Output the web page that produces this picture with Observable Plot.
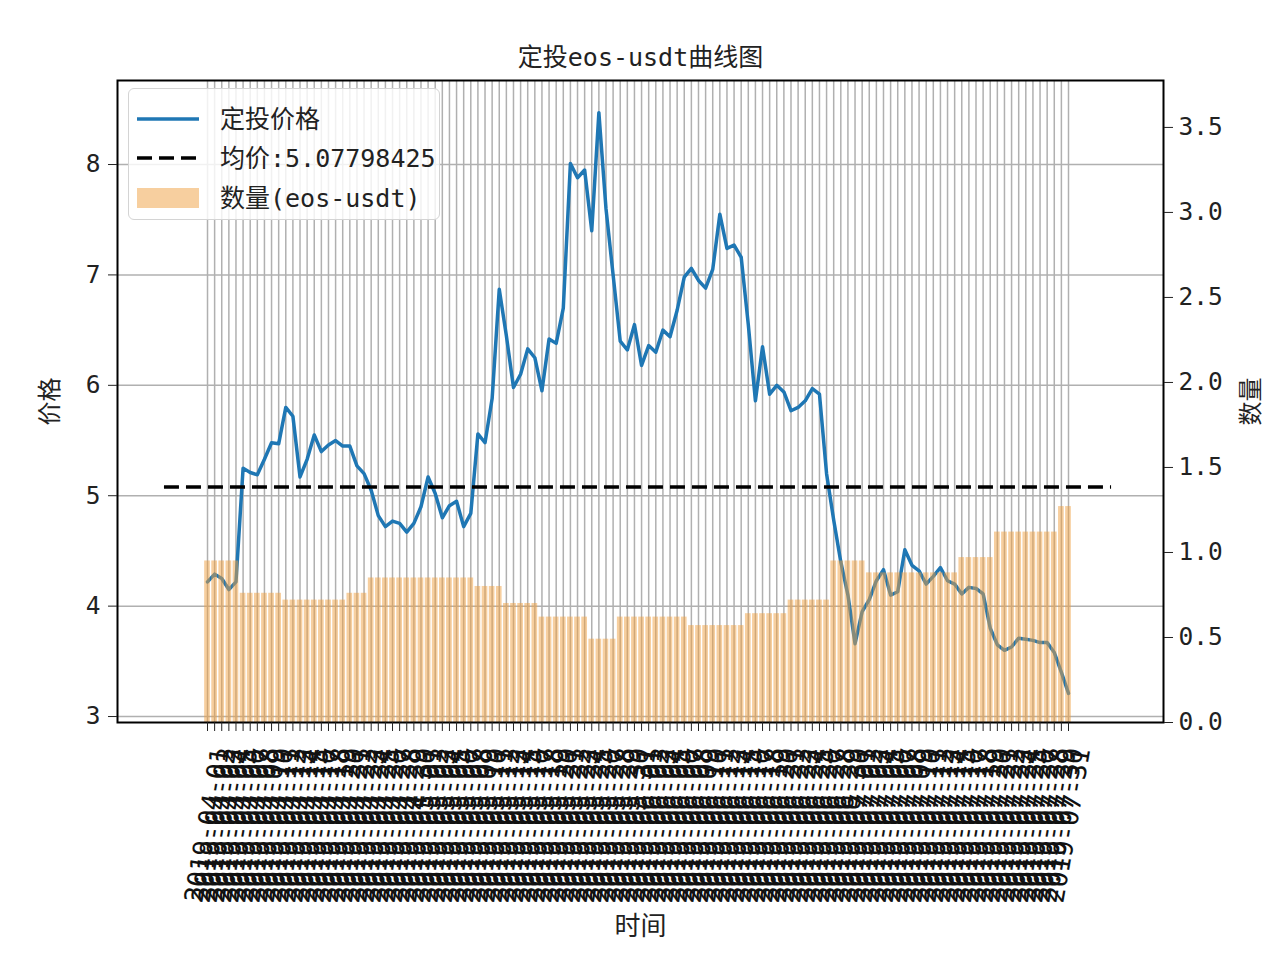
<!DOCTYPE html>
<html><head><meta charset="utf-8">
<script src="https://cdn.jsdelivr.net/npm/d3@7"></script>
<script src="https://cdn.jsdelivr.net/npm/@observablehq/plot@0.6"></script>
<style>
body{margin:0;background:#fff;}
#wrap{position:relative;width:1280px;height:963px;overflow:hidden;}
#legend{position:absolute;left:128px;top:88px;width:310px;height:130px;background:rgba(255,255,255,0.82);border:1.5px solid #d4d4d4;border-radius:6px;font-family:"DejaVu Sans Mono","Noto Sans CJK SC",sans-serif;font-size:25px;color:#222;}
.lg-s{position:absolute;left:8px;width:62px;height:30px;}
.lg-t{position:absolute;left:91px;white-space:nowrap;transform:translateY(-50%);line-height:1;}
</style>
</head><body>
<div id="wrap"></div>
<script>
const title = "定投eos-usdt曲线图";
const yLabelLeft = "价格";
const yLabelRight = "数量";
const xLabel = "时间";
const meanPrice = 5.07798425;
const legendLabels = ["定投价格", "均价:5.07798425", "数量(eos-usdt)"];
const priceTicks = [3, 4, 5, 6, 7, 8];
const qtyTicks = [0.0, 0.5, 1.0, 1.5, 2.0, 2.5, 3.0, 3.5];

const dates = [
"2019-04-01","2019-04-02","2019-04-03","2019-04-04","2019-04-05","2019-04-06","2019-04-07","2019-04-08","2019-04-09","2019-04-10",
"2019-04-11","2019-04-12","2019-04-13","2019-04-14","2019-04-15","2019-04-16","2019-04-17","2019-04-18","2019-04-19","2019-04-20",
"2019-04-21","2019-04-22","2019-04-23","2019-04-24","2019-04-25","2019-04-26","2019-04-27","2019-04-28","2019-04-29","2019-04-30",
"2019-05-01","2019-05-02","2019-05-03","2019-05-04","2019-05-05","2019-05-06","2019-05-07","2019-05-08","2019-05-09","2019-05-10",
"2019-05-11","2019-05-12","2019-05-13","2019-05-14","2019-05-15","2019-05-16","2019-05-17","2019-05-18","2019-05-19","2019-05-20",
"2019-05-21","2019-05-22","2019-05-23","2019-05-24","2019-05-25","2019-05-26","2019-05-27","2019-05-28","2019-05-29","2019-05-30",
"2019-05-31","2019-06-01","2019-06-02","2019-06-03","2019-06-04","2019-06-05","2019-06-06","2019-06-07","2019-06-08","2019-06-09",
"2019-06-10","2019-06-11","2019-06-12","2019-06-13","2019-06-14","2019-06-15","2019-06-16","2019-06-17","2019-06-18","2019-06-19",
"2019-06-20","2019-06-21","2019-06-22","2019-06-23","2019-06-24","2019-06-25","2019-06-26","2019-06-27","2019-06-28","2019-06-29",
"2019-06-30","2019-07-01","2019-07-02","2019-07-03","2019-07-04","2019-07-05","2019-07-06","2019-07-07","2019-07-08","2019-07-09",
"2019-07-10","2019-07-11","2019-07-12","2019-07-13","2019-07-14","2019-07-15","2019-07-16","2019-07-17","2019-07-18","2019-07-19",
"2019-07-20","2019-07-21","2019-07-22","2019-07-23","2019-07-24","2019-07-25","2019-07-26","2019-07-27","2019-07-28","2019-07-29",
"2019-07-30","2019-07-31"
];

const price = [
4.22, 4.29, 4.25, 4.15, 4.22, 5.25, 5.21, 5.19, 5.33, 5.48,
5.47, 5.80, 5.72, 5.17, 5.33, 5.55, 5.40, 5.46, 5.50, 5.45,
5.45, 5.27, 5.20, 5.05, 4.82, 4.72, 4.77, 4.75, 4.67, 4.75,
4.90, 5.17, 5.02, 4.80, 4.91, 4.95, 4.72, 4.84, 5.56, 5.48,
5.88, 6.87, 6.45, 5.98, 6.10, 6.33, 6.25, 5.95, 6.42, 6.38,
6.70, 8.01, 7.88, 7.95, 7.40, 8.47, 7.60, 7.00, 6.40, 6.32,
6.55, 6.18, 6.36, 6.30, 6.50, 6.44, 6.68, 6.98, 7.06, 6.95,
6.88, 7.05, 7.55, 7.24, 7.27, 7.16, 6.55, 5.86, 6.35, 5.92,
6.00, 5.94, 5.77, 5.80, 5.86, 5.97, 5.92, 5.20, 4.78, 4.40,
4.10, 3.66, 3.95, 4.06, 4.23, 4.33, 4.10, 4.13, 4.51, 4.37,
4.32, 4.20, 4.27, 4.35, 4.23, 4.20, 4.11, 4.17, 4.16, 4.11,
3.80, 3.65, 3.60, 3.63, 3.71, 3.70, 3.69, 3.67, 3.67, 3.58,
3.40, 3.21
];

const qty = [
0.95, 0.95, 0.95, 0.95, 0.95, 0.76, 0.76, 0.76, 0.76, 0.76,
0.76, 0.72, 0.72, 0.72, 0.72, 0.72, 0.72, 0.72, 0.72, 0.72,
0.76, 0.76, 0.76, 0.85, 0.85, 0.85, 0.85, 0.85, 0.85, 0.85,
0.85, 0.85, 0.85, 0.85, 0.85, 0.85, 0.85, 0.85, 0.80, 0.80,
0.80, 0.80, 0.70, 0.70, 0.70, 0.70, 0.70, 0.62, 0.62, 0.62,
0.62, 0.62, 0.62, 0.62, 0.49, 0.49, 0.49, 0.49, 0.62, 0.62,
0.62, 0.62, 0.62, 0.62, 0.62, 0.62, 0.62, 0.62, 0.57, 0.57,
0.57, 0.57, 0.57, 0.57, 0.57, 0.57, 0.64, 0.64, 0.64, 0.64,
0.64, 0.64, 0.72, 0.72, 0.72, 0.72, 0.72, 0.72, 0.95, 0.95,
0.95, 0.95, 0.95, 0.88, 0.88, 0.88, 0.88, 0.88, 0.88, 0.88,
0.88, 0.88, 0.88, 0.88, 0.88, 0.88, 0.97, 0.97, 0.97, 0.97,
0.97, 1.12, 1.12, 1.12, 1.12, 1.12, 1.12, 1.12, 1.12, 1.12,
1.27, 1.27
];

// axis limits (matplotlib-like margins)
const yMin = 2.946, yMax = 8.761, qMax = 3.776;
const xMin = -12.65, xMax = 134.35, hMin = -6.05, hMax = 127.05;
const qToP = q => yMin + q * (yMax - yMin) / qMax;
const pToQ = p => (p - yMin) * qMax / (yMax - yMin);

const idx = d3.range(price.length);
const data = idx.map(i => ({i, price: price[i], qty: qty[i], label: dates[i]}));

const chart = Plot.plot({
  width: 1280, height: 963,
  marginTop: 80, marginBottom: 241, marginLeft: 117, marginRight: 117,
  x: {domain: [xMin, xMax], axis: null},
  y: {domain: [yMin, yMax], axis: null},
  style: {fontFamily: '"DejaVu Sans Mono","Noto Sans CJK SC",sans-serif', fontSize: "24.5px", color: "#222", background: "#fff", overflow: "visible"},
  marks: [
    Plot.ruleX(idx, {x: d => d, stroke: "#b0b0b0", strokeWidth: 1.5}),
    Plot.ruleY(priceTicks, {y: d => d, stroke: "#b0b0b0", strokeWidth: 1.5}),
    Plot.line(data, {x: "i", y: "price", stroke: "#1f77b4", strokeWidth: 3.5}),
    Plot.ruleY([meanPrice], {y: d => d, x1: hMin, x2: hMax, stroke: "black", strokeWidth: 3.5, strokeDasharray: "15,7"}),
    Plot.rectY(data, {x1: d => d.i - 0.4, x2: d => d.i + 0.4, y1: qToP(0), y2: d => qToP(d.qty), fill: "#f0a040", fillOpacity: 0.5}),
    Plot.frame({stroke: "black", strokeWidth: 2}),
    Plot.axisY(priceTicks, {anchor: "left", tickSize: 9, tickPadding: 8, tickFormat: d => String(d), label: null}),
    Plot.axisY(qtyTicks.map(qToP), {anchor: "right", tickSize: 9, tickPadding: 6, tickFormat: p => pToQ(p).toFixed(1), label: null}),
    Plot.axisX(idx, {anchor: "bottom", tickSize: 9, tickFormat: () => "", label: null}),
    Plot.text(data, {x: "i", text: "label", frameAnchor: "bottom", dy: 103, rotate: -80, textAnchor: "middle", lineAnchor: "middle", fontSize: 26, fill: "#111"}),
    Plot.text([title], {text: d => d, frameAnchor: "top", dy: -32, fontSize: 25, fill: "#222"}),
    Plot.text([yLabelLeft], {text: d => d, frameAnchor: "left", dx: -67, rotate: -90, textAnchor: "middle", fontSize: 24, fill: "#222"}),
    Plot.text([yLabelRight], {text: d => d, frameAnchor: "right", dx: 88, rotate: -90, textAnchor: "middle", fontSize: 24, fill: "#222"}),
    Plot.text([xLabel], {text: d => d, frameAnchor: "bottom", dy: 212, fontSize: 26, fill: "#222"})
  ]
});

const wrap = document.getElementById("wrap");
wrap.appendChild(chart);

// legend
const lg = document.createElement("div");
lg.id = "legend";
const rows = [30, 69, 109];
const samples = [
  `<svg class="lg-s" style="top:${rows[0]-15}px"><line x1="0" x2="62" y1="15" y2="15" stroke="#1f77b4" stroke-width="3.5"/></svg>`,
  `<svg class="lg-s" style="top:${rows[1]-15}px"><line x1="0" x2="62" y1="15" y2="15" stroke="black" stroke-width="3.5" stroke-dasharray="15,7"/></svg>`,
  `<svg class="lg-s" style="top:${rows[2]-15}px"><rect x="0" y="5" width="62" height="20" fill="#f0a040" fill-opacity="0.5"/></svg>`
];
lg.innerHTML = samples.join("") + legendLabels.map((t, k) => `<div class="lg-t" style="top:${rows[k]}px">${t}</div>`).join("");
wrap.appendChild(lg);
</script>
</body></html>
